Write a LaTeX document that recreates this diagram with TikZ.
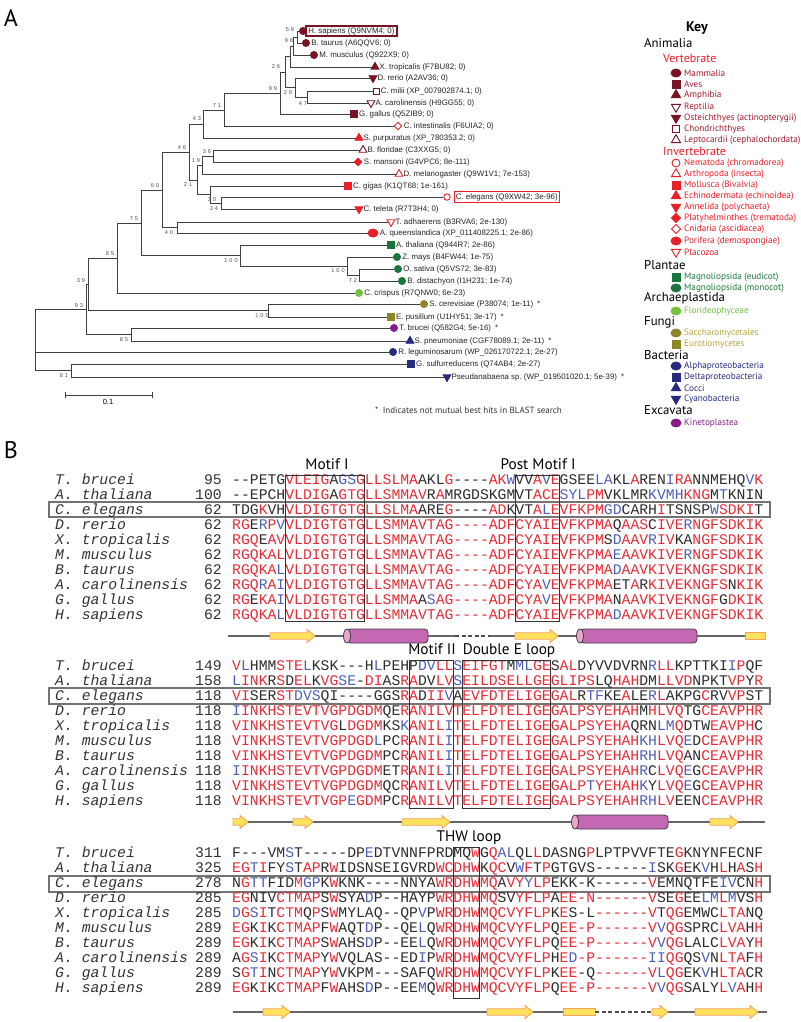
\documentclass[tikz,border=0pt]{standalone}
\usepackage{fontspec}
\setmainfont{Liberation Sans}
\newfontfamily\keyfont{PT Sans}
\setmonofont{Liberation Mono}
\usetikzlibrary{shapes.geometric}
\frenchspacing
\definecolor{vert}{RGB}{122,20,36}
\definecolor{verttxt}{RGB}{160,28,48}
\definecolor{invert}{RGB}{236,30,38}
\definecolor{plant}{RGB}{26,118,60}
\definecolor{alga}{RGB}{120,192,66}
\definecolor{fungus}{RGB}{140,134,38}
\definecolor{fungtxt}{RGB}{184,166,58}
\definecolor{bact}{RGB}{38,42,128}
\definecolor{excav}{RGB}{138,28,138}
\definecolor{seqred}{RGB}{232,44,54}
\definecolor{seqblue}{RGB}{76,96,184}
\definecolor{seqblk}{RGB}{45,45,45}
\definecolor{sheetfill}{RGB}{255,226,92}
\definecolor{sheetline}{RGB}{244,160,96}
\definecolor{helixfill}{RGB}{196,104,180}
\definecolor{helixcap}{RGB}{236,166,204}
\newcommand{\Rd}[1]{\textcolor{seqred}{#1}}
\newcommand{\Bu}[1]{\textcolor{seqblue}{#1}}
\newcommand{\cw}{8.85}
% tree tip: name, marker, x, y, text
\newcommand{\tip}[5]{\node[#2] (#1) at (#3,#4) {};
  \node[leaf] (#1t) at (#1.east) {#5};}
% key entry: name, marker, y, colour, text
\newcommand{\keyitem}[5]{\node[#2] (#1) at (676,#3) {};
  \node[keytxt,text=#4] (#1t) at (684,#3) {#5};}
% alignment row: name, baseline, species, start, residues
\newcommand{\arow}[5]{\node[spec] (#1s) at (55,#2) {#3};
  \node[num] (#1n) at (222,#2) {#4};
  \node[seq] (#1q) at (232,#2) {#5};}
% secondary structure: x1, x2, y
\newcommand{\sheet}[3]{\draw[sheetline,fill=sheetfill,line width=0.8]
  (#1,#3-3.2) -- (#2-8,#3-3.2) -- (#2-8,#3-6.5) -- (#2,#3) -- (#2-8,#3+6.5) -- (#2-8,#3+3.2) -- (#1,#3+3.2) -- cycle;}
\newcommand{\strand}[3]{\draw[sheetline,fill=sheetfill,line width=0.8] (#1,#3-3.2) rectangle (#2,#3+3.2);}
\newcommand{\helix}[3]{\draw[black!75,fill=helixfill,rounded corners=3.5,line width=0.8] (#1,#3-7) rectangle (#2,#3+7);
  \draw[black!75,fill=helixcap,line width=0.8] (#1,#3) ellipse [x radius=3.5,y radius=7];}
\newcommand{\gap}[3]{\draw[white,line width=3] (#1,#3) -- (#2,#3);
  \draw[black!70,line width=1.3,dash pattern=on 4 off 2.5] (#1,#3) -- (#2,#3);}
\tikzset{
  branch/.style={draw=black!75,line width=0.6},
  leaf/.style={anchor=west,inner sep=1.2,font=\fontsize{7.9}{9}\selectfont,text=black!85},
  boot/.style={inner sep=0,font=\fontsize{5.6}{7}\selectfont\addfontfeature{LetterSpace=35},text=black!70},
  mk/.style={inner sep=0,line width=0.9},
  fcirc/.style={mk,circle,minimum size=7,fill=#1,draw=#1},
  ocirc/.style={mk,circle,minimum size=6.5,fill=white,draw=#1},
  fsq/.style={mk,rectangle,minimum size=6.5,fill=#1,draw=#1},
  osq/.style={mk,rectangle,minimum size=6,fill=white,draw=#1},
  ftri/.style={mk,regular polygon,regular polygon sides=3,minimum size=9,fill=#1,draw=#1},
  otri/.style={mk,regular polygon,regular polygon sides=3,minimum size=9,fill=white,draw=#1},
  fdtri/.style={ftri=#1,shape border rotate=180},
  odtri/.style={otri=#1,shape border rotate=180},
  fdia/.style={mk,diamond,minimum size=8,fill=#1,draw=#1},
  odia/.style={mk,diamond,minimum size=8,fill=white,draw=#1},
  fell/.style={mk,ellipse,minimum width=10,minimum height=8,fill=#1,draw=#1},
  kbig/.style={minimum size=#1},
  keytxt/.style={anchor=west,inner sep=0,font=\keyfont\fontsize{9.2}{10}\selectfont},
  khead/.style={anchor=west,inner sep=0,font=\keyfont\fontsize{12.8}{14}\selectfont},
  ksub/.style={anchor=west,inner sep=0,text=invert,font=\keyfont\fontsize{12}{14}\selectfont},
  spec/.style={anchor=base west,inner sep=0,font=\fontsize{14.75}{15}\ttfamily\itshape,text=black!80},
  num/.style={anchor=base east,inner sep=0,font=\fontsize{14.75}{15}\ttfamily,text=black!80},
  seq/.style={anchor=base west,inner sep=0,font=\fontsize{14.75}{15}\ttfamily,text=seqblk},
  motif/.style={draw=black!80,line width=1},
  mlabel/.style={anchor=base,inner sep=0,font=\keyfont\fontsize{15.3}{16}\selectfont},
  celbox/.style={draw=black!55,line width=2.4},
  panel/.style={inner sep=0,font=\keyfont\fontsize{24}{26}\selectfont}
}
\begin{document}
\begin{tikzpicture}[x=1pt,y=-1pt]
\useasboundingbox[fill=white] (0,0) rectangle (800,1022);
\node[panel] (pa) at (11,18) {A};
\node[panel] (pb) at (11,450) {B};

%% panel A: tree
\tip{hsap}{fcirc=vert}{303}{31}{H. sapiens (Q9NVM4; 0)}
\tip{btau}{fcirc=vert}{306}{43}{B. taurus (A6QQV6; 0)}
\tip{mmus}{fcirc=vert}{314}{55}{M. musculus (Q922X9; 0)}
\tip{xtro}{ftri=vert}{375}{67}{X. tropicalis (F7BU82; 0)}
\tip{drer}{fdtri=vert}{373}{78}{D. rerio (A2AV36; 0)}
\tip{cmil}{osq=vert}{376}{91}{C. milii (XP\_007902874.1; 0)}
\tip{acar}{odtri=vert}{371}{103}{A. carolinensis (H9GG55; 0)}
\tip{ggal}{fsq=vert}{354}{114}{G. gallus (Q5ZIB9; 0)}
\tip{cint}{odia=invert}{398}{126}{C. intestinalis (F6UIA2; 0)}
\tip{spur}{ftri=invert}{359}{138}{S. purpuratus (XP\_780353.2; 0)}
\tip{bflo}{otri=vert}{363}{150}{B. floridae (C3XXG5; 0)}
\tip{sman}{fdia=invert}{358}{162}{S. mansoni (G4VPC6; 8e-111)}
\tip{dmel}{otri=invert}{399}{174}{D. melanogaster (Q9W1V1; 7e-153)}
\tip{cgig}{fsq=invert}{348}{186}{C. gigas (K1QT68; 1e-161)}
\tip{cele}{ocirc=invert}{447}{197}{}
\node[leaf,draw=invert,line width=1.3,inner sep=1.5] (celet) at ([xshift=3]cele.east) {C. elegans (Q9XW42; 3e-96)};
\tip{ctel}{fdtri=invert}{359}{209}{C. teleta (R7T3H4; 0)}
\tip{tadh}{odtri=invert}{391}{222}{T. adhaerens (B3RVA6; 2e-130)}
\tip{aque}{fell=invert}{373}{233}{A. queenslandica (XP\_011408225.1; 2e-86)}
\tip{atha}{fsq=plant}{391}{245}{A. thaliana (Q944R7; 2e-86)}
\tip{zmay}{fcirc=plant}{397}{257}{Z. mays (B4FW44; 1e-75)}
\tip{osat}{fcirc=plant}{398}{269}{O. sativa (Q5VS72; 3e-83)}
\tip{bdis}{fcirc=plant}{402}{281}{B. distachyon (I1H231; 1e-74)}
\tip{ccri}{fcirc=alga}{359}{293}{C. crispus (R7QNW0; 6e-23)}
\tip{scer}{fcirc=fungus}{424}{304}{S. cerevisiae (P38074; 1e-11)\enspace*}
\tip{epus}{fsq=fungus}{391}{317}{E. pusillum (U1HY51; 3e-17)\enspace*}
\tip{tbru}{fcirc=excav}{394}{328}{T. brucei (Q582G4; 5e-16)\enspace*}
\tip{spne}{ftri=bact}{410}{341}{S. pneumoniae (CGF78089.1; 2e-11)\enspace*}
\tip{rleg}{fcirc=bact}{393}{352}{R. leguminosarum (WP\_026170722.1; 2e-27)}
\tip{gsul}{fsq=bact}{411}{364}{G. sulfurreducens (Q74AB4; 2e-27)}
\tip{pseu}{fdtri=bact}{447}{377}{Pseudanabaena sp. (WP\_019501020.1; 5e-39)\enspace*}
\draw[vert,line width=1.4] ([xshift=-1]hsapt.south west) rectangle ([xshift=1]hsapt.north east);

\coordinate (root) at (35,340);
\coordinate (n93) at (86,309.4);
\coordinate (n39) at (88,284.2);
\coordinate (n85a) at (117,257.9);
\coordinate (n75) at (141,222.8);
\coordinate (n60) at (162,190);
\coordinate (n46) at (189,152);
\coordinate (n43) at (203,124);
\coordinate (n71) at (224,110);
\coordinate (n99) at (280,93);
\coordinate (n26) at (285,72);
\coordinate (nxt) at (290,56);
\coordinate (n98) at (293,46);
\coordinate (n59) at (297,37);
\coordinate (n29) at (295,87.5);
\coordinate (n47) at (307,97);
\coordinate (n21) at (197,180);
\coordinate (n19) at (202,165);
\coordinate (n36) at (213,156);
\coordinate (n30) at (210,194.5);
\coordinate (n34) at (221,203);
\coordinate (n40) at (177,227.5);
\coordinate (npl) at (240,255.5);
\coordinate (nmo) at (347,266);
\coordinate (n72) at (359,275);
\coordinate (nfu) at (268,310.5);
\coordinate (n85b) at (131,334.5);
\coordinate (n81) at (71,370.5);
\foreach \a/\b in {root/n93,root/rleg,root/n81,n93/n39,n93/n85b,n39/n85a,n39/nfu,
    n85a/n75,n85a/ccri,n75/n60,n75/npl,n60/n46,n60/n40,n46/n43,n46/n21,n43/n71,n43/spur,
    n71/n99,n71/cint,n99/n26,n99/ggal,n26/nxt,n26/n29,nxt/n98,nxt/xtro,n98/n59,n98/mmus,
    n59/hsap,n59/btau,n29/drer,n29/n47,n47/cmil,n47/acar,n21/n19,n21/n30,n19/n36,n19/dmel,
    n36/bflo,n36/sman,n30/cgig,n30/n34,n34/cele,n34/ctel,n40/tadh,n40/aque,npl/atha,npl/nmo,
    nmo/zmay,nmo/n72,n72/osat,n72/bdis,nfu/scer,nfu/epus,n85b/tbru,n85b/spne,n81/gsul,n81/pseu}
  \draw[branch] (\a) |- (\b);

% bootstrap values
\foreach \v/\x/\y/\n in {59/290/30/b59,98/289/41/b98,26/276/67/b26,99/273/89/b99,29/288/93/b29,
    47/303/104/b47,71/217/106/b71,43/197/119/b43,46/182/148/b46,36/207/152/b36,19/196/161/b19,
    21/188/185/b21,30/212/200/b30,34/214/209/b34,60/155/186/b60,40/169/233/b40,75/134/219/b75,
    100/231/261/b100p,100/338/271/b100m,72/353/281/b72,85/110/254/b85a,39/81/281/b39,
    93/79/306/b93,100/262/316/b100f,85/124/340/b85b,81/64/376/b81}
  \node[boot] (\n) at (\x,\y) {\v};

% scale bar
\coordinate (sbl) at (65,395);
\coordinate (sbr) at (152,395);
\draw[branch] (sbl) -- (sbr);
\draw[branch] ([yshift=3]sbl) -- ([yshift=-3]sbl);
\draw[branch] ([yshift=3]sbr) -- ([yshift=-3]sbr);
\node[inner sep=0,font=\fontsize{7.5}{9}\selectfont] (sbt) at (108,402) {0.1};
\node[keytxt,font=\keyfont\fontsize{9}{10}\selectfont,text=black!80] (note) at (375,410) {*\enspace Indicates not mutual best hits in BLAST search};

% key
\node[inner sep=0,font=\keyfont\bfseries\fontsize{14}{15}\selectfont] (key) at (697,28) {Key};
\node[khead] (kanim) at (644,43) {Animalia};
\node[ksub] (kvert) at (663,58) {Vertebrate};
\keyitem{k1}{fell=vert}{73}{verttxt}{Mammalia}
\keyitem{k2}{fsq=vert,kbig=8}{84}{verttxt}{Aves}
\keyitem{k3}{ftri=vert,kbig=10.5}{95}{verttxt}{Amphibia}
\keyitem{k4}{odtri=vert,kbig=10.5}{107}{verttxt}{Reptilia}
\keyitem{k5}{fdtri=vert,kbig=10.5}{118}{verttxt}{Osteichthyes (actinopterygii)}
\keyitem{k6}{osq=vert,kbig=7.5}{129}{verttxt}{Chondrichthyes}
\keyitem{k7}{otri=vert,kbig=10.5}{140}{verttxt}{Leptocardii (cephalochordata)}
\node[ksub] (kinv) at (663,151) {Invertebrate};
\keyitem{k8}{ocirc=invert,kbig=8}{163}{invert}{Nematoda (chromadorea)}
\keyitem{k9}{otri=invert,kbig=10.5}{174}{invert}{Arthropoda (insecta)}
\keyitem{k10}{fsq=invert,kbig=8}{185}{invert}{Mollusca (Bivalvia)}
\keyitem{k11}{ftri=invert,kbig=10.5}{196}{invert}{Echinodermata (echinoidea)}
\keyitem{k12}{fdtri=invert,kbig=10.5}{207}{invert}{Annelida (polychaeta)}
\keyitem{k13}{fdia=invert,kbig=9.5}{218}{invert}{Platyhelminthes (trematoda)}
\keyitem{k14}{odia=invert,kbig=9.5}{229}{invert}{Cnidaria (ascidiacea)}
\keyitem{k15}{fell=invert}{241}{invert}{Porifera (demospongiae)}
\keyitem{k16}{odtri=invert,kbig=10.5}{252}{invert}{Placozoa}
\node[khead] (kplant) at (644,265) {Plantae};
\keyitem{k17}{fsq=plant,kbig=8}{277}{plant}{Magnoliopsida (eudicot)}
\keyitem{k18}{fell=plant}{288}{plant}{Magnoliopsida (monocot)}
\node[khead] (karch) at (644,298) {Archaeplastida};
\keyitem{k19}{fell=alga}{311}{alga}{Florideophyceae}
\node[khead] (kfung) at (644,322) {Fungi};
\keyitem{k20}{fell=fungus}{333}{fungtxt}{Saccharomycetales}
\keyitem{k21}{fsq=fungus,kbig=8}{344}{fungtxt}{Eurotiomycetes}
\node[khead] (kbact) at (644,355) {Bacteria};
\keyitem{k22}{fell=bact}{366}{bact}{Alphaproteobacteria}
\keyitem{k23}{fsq=bact,kbig=8}{377}{bact}{Deltaproteobacteria}
\keyitem{k24}{ftri=bact,kbig=10.5}{388}{bact}{Cocci}
\keyitem{k25}{fdtri=bact,kbig=10.5}{399}{bact}{Cyanobacteria}
\node[khead] (kexc) at (644,410) {Excavata};
\keyitem{k26}{fell=excav}{423}{excav}{Kinetoplastea}

%% panel B: alignment, block 1
\draw[celbox] (49,502) rectangle (770,517);
\arow{a1}{484.5}{T. brucei}{95}{--PETG\Rd{VLEIG}A\Bu{GS}\Rd{GLLSLMA}AKL\Rd{G}----\Rd{AK}\Bu{W}VV\Rd{A}\Bu{V}\Rd{E}GSEE\Bu{LA}KL\Rd{A}REN\Bu{I}\Rd{RA}NNMEHQ\Bu{V}\Rd{K}}
\arow{a2}{499.5}{A. thaliana}{100}{--EPCH\Rd{VLDIG}A\Rd{GTGLLSMMAV}R\Rd{A}MRGDSKGMVT\Rd{ACE}\Bu{SYL}\Rd{PM}VKLMR\Bu{KVMH}\Rd{KNG}M\Bu{T}KNIN}
\arow{a3}{514.5}{C. elegans}{62}{TDG\Rd{K}VH\Rd{VLDIGTGTGLLSLMA}ARE\Rd{G}----\Rd{AD}KVT\Rd{A}\Bu{L}\Rd{EVFKPM}\Bu{GD}CARH\Rd{I}TSNSP\Bu{W}\Rd{SDKI}T}
\arow{a4}{529.5}{D. rerio}{62}{\Rd{RG}E\Bu{R}\Rd{P}\Bu{V}\Rd{VLDIGTGTGLLSMMAVTAG----ADFCYAIEVFKPMA}Q\Rd{AAS}C\Rd{IVE}\Bu{R}\Rd{NGFSDKIK}}
\arow{a5}{544.5}{X. tropicalis}{62}{\Rd{RGQ}E\Rd{AVVLDIGTGTGLLSMMAVTAG----ADFCYAIEVFKPM}S\Bu{D}\Rd{AAV}\Bu{R}\Rd{IV}KA\Rd{NGFSDKIK}}
\arow{a6}{559.5}{M. musculus}{62}{\Rd{RGQKALVLDIGTGTGLLSMMAVTAG----ADFCYAIEVFKPMA}\Bu{E}\Rd{AAVKIVE}\Bu{R}\Rd{NGFSDKIK}}
\arow{a7}{574.5}{B. taurus}{62}{\Rd{RGQKA}\Bu{L}\Rd{VLDIGTGTGLLSMMAVTAG----ADFCYAIEVFKPMA}\Bu{D}\Rd{AAVKIVEKNGFSDKIK}}
\arow{a8}{589.5}{A. carolinensis}{62}{\Rd{RGQ}\Bu{R}\Rd{A}\Bu{I}\Rd{VLDIGTGTGLLSMMAVTAG----ADFCYA}\Bu{V}\Rd{EVFKPMA}ET\Rd{A}R\Rd{KIVEKNGFS}N\Rd{KIK}}
\arow{a9}{604.5}{G. gallus}{62}{\Rd{RG}E\Rd{KA}\Bu{I}\Rd{VLDIGTGTGLLSMMA}A\Bu{S}\Rd{AG----ADFCYA}\Bu{V}\Rd{EVFKPMA}N\Rd{AAVKIVEKNGF}G\Rd{DKIK}}
\arow{a10}{619.5}{H. sapiens}{62}{\Rd{RGQKA}\Bu{L}\Rd{VLDIGTGTGLLSMMAVTAG----ADFCYAIEVFKPMA}\Bu{D}\Rd{AAVKIVEKNGFSDKIK}}
\draw[motif] ({232+6*\cw},475) rectangle ({232+15*\cw},621);
\draw[motif] ({232+32*\cw},475) rectangle ({232+37*\cw},621);
\node[mlabel] (m1) at (327,469) {Motif I};
\node[mlabel] (m2) at (538,469) {Post Motif I};
\draw[black!60,line width=1.2] (228,636) -- (765,636);
\sheet{270}{315}{636}
\helix{347}{428}{636}
\gap{455}{490}{636}
\sheet{515}{558}{636}
\helix{580}{697}{636}
\strand{745}{765}{636}

%% block 2
\draw[celbox] (49,688) rectangle (770,704);
\arow{b1}{670.5}{T. brucei}{149}{\Rd{V}\Bu{L}HMM\Rd{STE}\Bu{L}KSK---H\Bu{L}PEHP\Bu{DV}\Rd{LL}\Bu{S}\Rd{EIFGT}M\Bu{ML}\Rd{GE}S\Rd{AL}DYVVDVRN\Bu{R}\Rd{LL}KPTTKI\Bu{I}\Rd{P}QF}
\arow{b2}{685.5}{A. thaliana}{158}{\Bu{L}\Rd{INK}R\Rd{S}D\Rd{EL}K\Rd{VG}\Bu{SE}-\Rd{DI}AS\Rd{RA}DV\Rd{LV}\Bu{S}\Rd{EILDSELLGEGLIPS}LQ\Rd{HAH}DM\Rd{LLVD}NPKT\Rd{VP}Y\Rd{R}}
\arow{b3}{700.5}{C. elegans}{118}{\Rd{VI}SER\Rd{ST}\Bu{DVS}QI----GGS\Rd{RA}D\Rd{II}\Bu{V}A\Rd{EVFDTELIGEGAL}R\Bu{TF}KE\Rd{A}LE\Bu{R}\Rd{L}AKPG\Rd{C}RV\Rd{VP}ST}
\arow{b4}{715.5}{D. rerio}{118}{\Bu{I}\Rd{INKHSTEVTVGPDGDM}QE\Rd{RANILVTELFDTELIGEGALPSYEHAH}M\Rd{HLVQ}TG\Rd{CEAVPHR}}
\arow{b5}{730.5}{X. tropicalis}{118}{\Rd{VINKHSTEVTVG}L\Rd{DGDM}KS\Bu{K}\Rd{ANIL}\Bu{I}\Rd{TELFDTELIGEGALPSYEHA}QRN\Bu{LM}\Rd{Q}DTW\Rd{EAVPH}C}
\arow{b6}{745.5}{M. musculus}{118}{\Rd{VINKHSTEVTVGPDGD}\Bu{L}PC\Rd{RANIL}\Bu{I}\Rd{TELFDTELIGEGALPSYEHAH}\Bu{KH}\Rd{LVQ}\Bu{E}D\Rd{CEAVPHR}}
\arow{b7}{760.5}{B. taurus}{118}{\Rd{VINKHSTEVTVGPDGDM}PC\Rd{RANIL}\Bu{I}\Rd{TELFDTELIGEGALPSYEHAH}\Bu{RH}\Rd{LVQ}AN\Rd{CEAVPHR}}
\arow{b8}{775.5}{A. carolinensis}{118}{\Bu{I}\Rd{INKHSTEVTVGPDGDM}ET\Rd{RANIL}\Bu{I}\Rd{TELFDTELIGEGALPSYEHAH}\Bu{R}C\Rd{LVQ}\Bu{E}G\Rd{CEAVPHR}}
\arow{b9}{790.5}{G. gallus}{118}{\Rd{VINKHSTEVTVGPDGDM}QC\Rd{RANILVTELFDTELIGEGALP}\Bu{T}\Rd{YEHAH}\Bu{K}Y\Rd{LVQ}\Bu{E}G\Rd{CEAVPHR}}
\arow{b10}{805.5}{H. sapiens}{118}{\Rd{VINKHSTEVTVGP}\Bu{E}\Rd{GDM}PC\Rd{RANILVTELFDTELIGEGALPSYEHAH}\Bu{RH}\Rd{LV}EEN\Rd{CEAVPHR}}
\draw[motif] ({232+20*\cw},660) rectangle ({232+25*\cw},808);
\draw[motif] ({232+26*\cw},660) rectangle ({232+36*\cw},808);
\node[mlabel] (m3) at (432,654) {Motif II};
\node[mlabel] (m4) at (509,654) {Double E loop};
\draw[black!60,line width=1.2] (233,822) -- (765,822);
\sheet{233}{248}{822}
\sheet{293}{313}{822}
\sheet{402}{450}{822}
\helix{575}{668}{822}
\sheet{710}{738}{822}

%% block 3
\draw[celbox] (49,876) rectangle (770,892);
\arow{c1}{857.5}{T. brucei}{311}{F---VM\Bu{S}T-----DP\Bu{E}DTVNNFPRDMQ\Rd{W}G\Rd{Q}\Bu{AL}QL\Rd{L}DASNG\Rd{P}LPTPVVFTE\Rd{G}KNYNFECNF}
\arow{c2}{872.5}{A. thaliana}{325}{\Rd{EG}\Bu{T}\Rd{I}FY\Bu{S}T\Rd{AP}R\Rd{W}IDSNSEIGVRD\Rd{WCDHW}K\Rd{QC}V\Bu{W}\Rd{F}T\Rd{P}GTGVS------\Bu{I}SK\Rd{G}EK\Bu{V}H\Rd{L}H\Rd{A}S\Rd{H}}
\arow{c3}{887.5}{C. elegans}{278}{N\Rd{G}\Bu{TT}FID\Rd{M}\Bu{GP}K\Rd{W}KNK----NNYA\Rd{WRDHWMQ}A\Rd{VY}\Bu{Y}\Rd{LP}EKK-K------\Rd{V}EMNQTFE\Bu{IV}CN\Rd{H}}
\arow{c4}{902.5}{D. rerio}{285}{\Rd{EG}NIV\Rd{CTMAP}S\Rd{W}SYA\Bu{D}P--HAYP\Rd{WRDHWMQ}SV\Rd{YFLP}A\Rd{EE-N------V}SE\Rd{G}EE\Bu{LM}\Rd{L}\Bu{M}VS\Rd{H}}
\arow{c5}{917.5}{X. tropicalis}{285}{\Bu{D}\Rd{G}\Bu{S}\Rd{I}T\Rd{CTM}Q\Rd{P}S\Rd{W}MYLAQ--QP\Bu{V}P\Rd{WRDHWMQCVYFLP}K\Rd{E}S-L\Rd{------V}T\Rd{QG}EMWC\Rd{LTA}NQ}
\arow{c6}{932.5}{M. musculus}{289}{\Rd{EG}K\Rd{I}K\Rd{CTMAP}F\Rd{W}AQT\Bu{D}P--QE\Bu{L}Q\Rd{WRDHWMQCVYFLP}Q\Rd{EE-P------V}\Bu{V}\Rd{QG}SPRC\Rd{LVA}H\Rd{H}}
\arow{c7}{947.5}{B. taurus}{289}{\Rd{EG}K\Rd{I}K\Rd{CTMAP}S\Rd{W}AHS\Bu{D}P--EE\Bu{L}Q\Rd{WRDHWMQCVYFLP}Q\Rd{EE-P------V}\Bu{V}\Rd{QG}LALC\Rd{LVA}Y\Rd{H}}
\arow{c8}{962.5}{A. carolinensis}{289}{A\Rd{G}\Bu{S}\Rd{I}K\Rd{CTMAP}Y\Rd{W}VQLAS--ED\Bu{I}P\Rd{WRDHWMQCVYFLP}H\Rd{E}\Bu{D}\Rd{-P------}\Bu{II}\Rd{QG}QS\Bu{V}N\Rd{LTA}F\Rd{H}}
\arow{c9}{977.5}{G. gallus}{289}{S\Rd{G}\Bu{T}\Rd{I}N\Rd{CTMAP}Y\Rd{W}VKPM---SAFQ\Rd{WRDHWMQCVYFLP}K\Rd{EE}-Q\Rd{------V}\Bu{L}\Rd{QG}EK\Bu{V}H\Rd{LTA}CR}
\arow{c10}{992.5}{H. sapiens}{289}{\Rd{EG}K\Rd{I}K\Rd{CTMAP}F\Rd{W}AHS\Bu{D}P--EE\Bu{M}Q\Rd{WRDHWMQCVYFLP}Q\Rd{EE-P------V}\Bu{V}\Rd{QG}SALY\Rd{L}\Bu{V}\Rd{A}H\Rd{H}}
\draw[motif] ({232+25*\cw},847) rectangle ({232+28*\cw},998);
\node[mlabel] (m5) at (469,841) {THW loop};
\draw[black!60,line width=1.2] (233,1012) -- (767,1012);
\sheet{263}{290}{1012}
\sheet{487}{533}{1012}
\strand{563}{595}{1012}
\gap{595}{652}{1012}
\sheet{652}{668}{1012}
\sheet{695}{758}{1012}
\end{tikzpicture}
\end{document}
